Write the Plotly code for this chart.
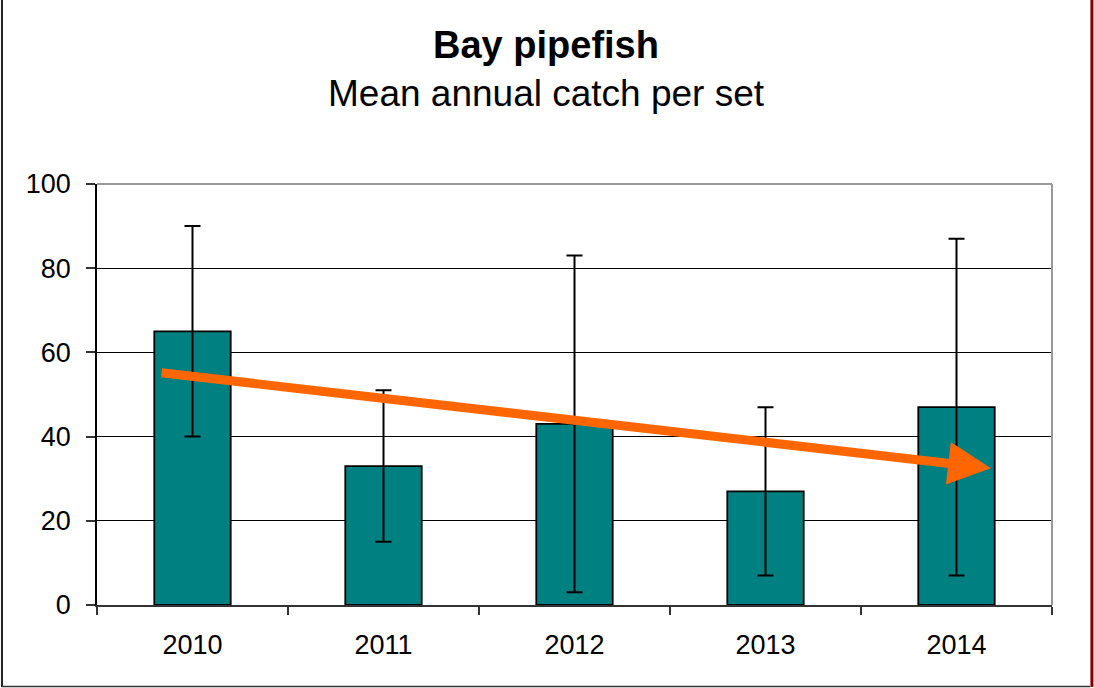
import plotly.graph_objects as go

years = ["2010", "2011", "2012", "2013", "2014"]
mean_catch = [65, 33, 43, 27, 47]
error_half = [25, 18, 40, 20, 40]
trend_start = [-0.17, 55.2]   # (category index, value)
trend_end = [4.18, 32.5]
y_ticks = [0, 20, 40, 60, 80, 100]

FONT = "Liberation Sans, Arial, sans-serif"

fig = go.Figure()
fig.add_trace(go.Bar(
    x=years, y=mean_catch, width=0.4,
    marker=dict(color="#008080", line=dict(color="#000000", width=1.8)),
    error_y=dict(type="data", array=error_half, symmetric=True,
                 color="#000000", thickness=2, width=8),
    showlegend=False,
))

fig.update_layout(
    width=1094, height=688,
    margin=dict(l=97, r=42, t=184, b=83),
    paper_bgcolor="white", plot_bgcolor="white",
    font=dict(family=FONT, color="#000000"),
    xaxis=dict(type="category", tickson="boundaries", ticks="outside",
               ticklen=8, tickcolor="#333333", tickwidth=1.5,
               showline=True, linecolor="#333333", linewidth=2,
               showgrid=False, tickfont=dict(size=27),
               ticklabelstandoff=15,
               range=[-0.5, 4.5]),
    yaxis=dict(range=[0, 100], tickvals=y_ticks, ticks="outside",
               ticklen=9, tickcolor="#333333", tickwidth=1.5,
               showline=True, linecolor="#000000", linewidth=1.5,
               showgrid=True, gridcolor="#000000", gridwidth=1,
               zeroline=False, tickfont=dict(size=27),
               ticklabelstandoff=10),
    annotations=[
        dict(text="<b>Bay pipefish</b>", xref="paper", yref="paper",
             x=0.4706, y=1.330, showarrow=False, font=dict(size=38),
             xanchor="center", yanchor="middle"),
        dict(text="Mean annual catch per set", xref="paper", yref="paper",
             x=0.4706, y=1.216, showarrow=False, font=dict(size=37),
             xanchor="center", yanchor="middle"),
        dict(text="", x=trend_end[0], y=trend_end[1], xref="x", yref="y",
             ax=trend_start[0], ay=trend_start[1], axref="x", ayref="y",
             showarrow=True, arrowhead=2, arrowsize=0.95, arrowwidth=9,
             arrowcolor="#FF6600"),
    ],
    shapes=[
        # top and right plot border (gray)
        dict(type="line", xref="paper", yref="paper", x0=0, x1=1, y0=1, y1=1,
             line=dict(color="#999999", width=2), layer="above"),
        dict(type="line", xref="paper", yref="paper", x0=1, x1=1, y0=0, y1=1,
             line=dict(color="#999999", width=2), layer="above"),
        # outer frame
        dict(type="line", xref="paper", yref="paper", x0=-0.0995, x1=-0.0995,
             y0=-0.195, y1=1.44, line=dict(color="#222222", width=2)),
        dict(type="line", xref="paper", yref="paper", x0=-0.1, x1=1.0398,
             y0=-0.1936, y1=-0.1936, line=dict(color="#333333", width=1.5)),
        dict(type="line", xref="paper", yref="paper", x0=1.0418, x1=1.0418,
             y0=-0.195, y1=1.44, line=dict(color="#800000", width=3)),
    ],
)

fig.write_html("out.html", config={"displayModeBar": False},
               post_script="document.body.style.margin='0px';document.body.style.overflow='hidden';")
